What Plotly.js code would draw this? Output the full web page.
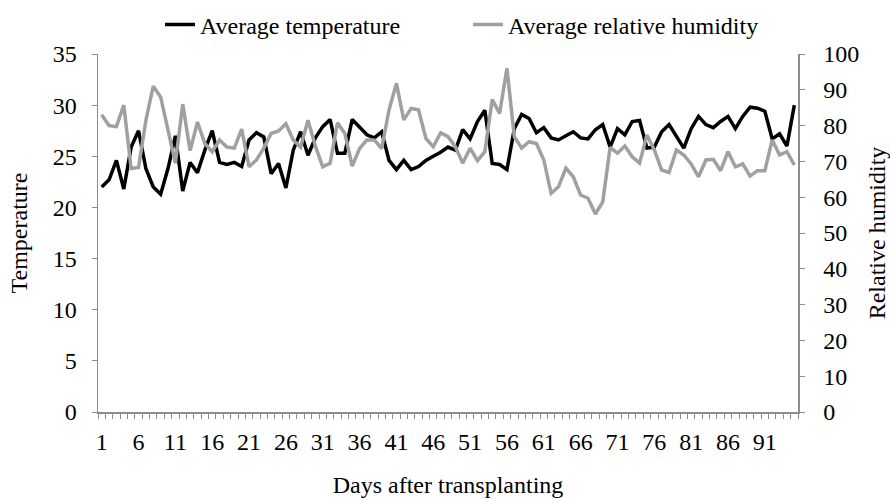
<!DOCTYPE html>
<html>
<head>
<meta charset="utf-8">
<script src="https://cdn.plot.ly/plotly-3.0.1.min.js"></script>
<style>html,body{margin:0;padding:0;background:#fff;}#chart{width:890px;height:499px;}</style>
</head>
<body>
<div id="chart"></div>
<script>
const days = Array.from({length: 95}, (_, i) => i + 1);
const temperature = [
  22.0, 22.7, 24.6, 21.8, 25.9, 27.5, 23.8, 22.0, 21.3, 23.8,
  27.0, 21.6, 24.4, 23.4, 25.6, 27.5, 24.4, 24.2, 24.4, 24.0,
  26.6, 27.3, 26.9, 23.3, 24.3, 21.9, 25.6, 27.4, 25.1, 26.8,
  27.9, 28.6, 25.3, 25.3, 28.6, 27.9, 27.1, 26.8, 27.4, 24.6,
  23.7, 24.6, 23.7, 24.0, 24.6, 25.0, 25.4, 25.9, 25.6, 27.6,
  26.7, 28.4, 29.5, 24.3, 24.2, 23.7, 27.7, 29.1, 28.7, 27.3,
  27.8, 26.8, 26.6, 27.0, 27.4, 26.8, 26.7, 27.6, 28.1, 25.9,
  27.7, 27.1, 28.4, 28.5, 25.8, 25.9, 27.4, 28.1, 26.9, 25.8,
  27.7, 28.9, 28.1, 27.8, 28.4, 28.9, 27.7, 28.9, 29.8, 29.7,
  29.4, 26.7, 27.2, 26.0, 30.0
];
const humidity = [
  83.0, 80.0, 79.7, 85.7, 68.0, 68.3, 81.5, 91.0, 88.0, 79.0,
  69.5, 86.0, 73.0, 81.0, 75.0, 72.7, 76.0, 74.0, 73.7, 79.0,
  68.5, 70.4, 73.7, 77.8, 78.5, 80.5, 76.0, 74.0, 81.5, 74.3,
  68.5, 69.5, 80.8, 77.8, 68.7, 73.6, 76.0, 76.0, 73.6, 84.4,
  91.8, 81.6, 84.8, 84.4, 76.4, 74.1, 78.0, 76.9, 74.1, 69.5,
  73.7, 70.2, 72.7, 87.3, 83.4, 96.0, 76.9, 73.7, 75.5, 75.0,
  70.4, 61.1, 62.9, 68.1, 65.7, 60.6, 59.7, 55.3, 58.7, 73.9,
  72.3, 74.3, 71.3, 69.5, 77.4, 73.2, 67.6, 66.9, 73.2, 71.8,
  69.3, 65.7, 70.4, 70.6, 67.4, 72.7, 68.5, 69.3, 65.9, 67.4,
  67.4, 76.0, 71.8, 72.7, 69.0
];
const xTickVals = [1, 6, 11, 16, 21, 26, 31, 36, 41, 46, 51, 56, 61, 66, 71, 76, 81, 86, 91];
const xTickText = xTickVals.map(String);

const fam = 'Liberation Serif, Times New Roman, serif';
const axisColor = '#8c8c8c';

const traces = [
  {x: days, y: temperature, name: 'Average temperature', type: 'scatter', mode: 'lines',
   line: {color: '#000000', width: 3.5}, yaxis: 'y'},
  {x: days, y: humidity, name: 'Average relative humidity', type: 'scatter', mode: 'lines',
   line: {color: '#a0a0a0', width: 3.5}, yaxis: 'y2'}
];

const layout = {
  width: 890, height: 499,
  margin: {l: 98, r: 92, t: 54, b: 87, autoexpand: false},
  paper_bgcolor: '#fff', plot_bgcolor: '#fff',
  font: {family: fam, size: 24, color: '#000'},
  showlegend: true,
  legend: {orientation: 'h', x: 0.0886, xanchor: 'left', y: 1.081, yanchor: 'middle',
           font: {family: fam, size: 24, color: '#000'}, itemwidth: 30, tracegroupgap: 0,
           entrywidth: 263, entrywidthmode: 'pixels'},
  xaxis: {
    range: [0.5, 95.5], tickmode: 'array', tickvals: xTickVals, ticktext: xTickText,
    ticks: '', showgrid: false, zeroline: false, showline: true, linecolor: axisColor, linewidth: 1.5,
    tickfont: {family: fam, size: 24, color: '#000'}, ticklabelstandoff: 8,
    minor: {tickmode: 'linear', tick0: 0.5, dtick: 1, ticks: 'outside', ticklen: 5, tickcolor: axisColor, tickwidth: 1, showgrid: false},
    title: {text: 'Days after transplanting', font: {family: fam, size: 24, color: '#000'}, standoff: 22}
  },
  yaxis: {
    range: [0, 35], dtick: 5, tick0: 0, ticks: 'outside', ticklen: 5, tickcolor: axisColor,
    showgrid: false, zeroline: false, showline: true, linecolor: axisColor, linewidth: 1.5,
    tickfont: {family: fam, size: 24, color: '#000'}, ticklabelstandoff: 10,
    title: {text: 'Temperature', font: {family: fam, size: 24, color: '#000'}, standoff: 18}
  },
  yaxis2: {
    range: [0, 100], dtick: 10, tick0: 0, overlaying: 'y', side: 'right', ticks: 'outside', ticklen: 5,
    tickcolor: axisColor, showgrid: false, zeroline: false, showline: true, linecolor: axisColor, linewidth: 1.5,
    tickfont: {family: fam, size: 24, color: '#000'}, ticklabelstandoff: 14,
    title: {text: 'Relative humidity', font: {family: fam, size: 24, color: '#000'}, standoff: 10}
  }
};

Plotly.newPlot('chart', traces, layout, {displayModeBar: false, staticPlot: true});
</script>
</body>
</html>
